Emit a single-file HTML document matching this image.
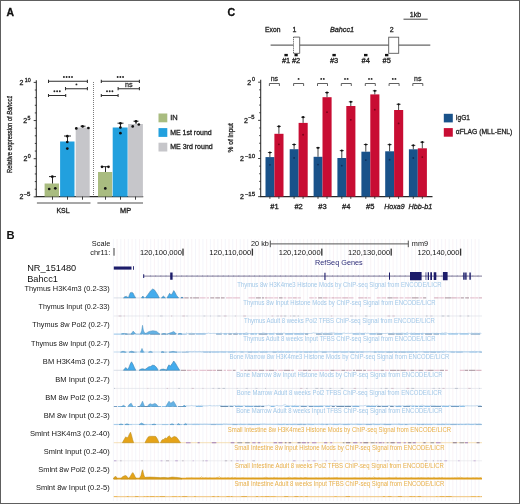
<!DOCTYPE html><html><head><meta charset="utf-8"><style>html,body{margin:0;padding:0;background:#fff;overflow:hidden;}svg{display:block;will-change:transform;font-family:"Liberation Sans", sans-serif;}</style></head><body>
<svg width="520" height="504" viewBox="0 0 520 504">
<rect x="0" y="0" width="520" height="504" fill="#fff"/>
<text x="6.50" y="15.60" font-size="10.4" fill="#111" font-weight="bold" stroke="#111" stroke-width="0.3">A</text>
<line x1="36.3" y1="80.2" x2="36.3" y2="197" stroke="#2a2a2a" stroke-width="1.05"/>
<path d="M33.70 196.85H36.3 M34.80 189.22H36.3 M34.80 181.59H36.3 M34.80 173.96H36.3 M34.80 166.33H36.3 M33.70 158.70H36.3 M34.80 151.07H36.3 M34.80 143.44H36.3 M34.80 135.81H36.3 M34.80 128.18H36.3 M33.70 120.55H36.3 M34.80 112.92H36.3 M34.80 105.29H36.3 M34.80 97.66H36.3 M34.80 90.03H36.3 M33.70 82.40H36.3" stroke="#2a2a2a" stroke-width="0.9" fill="none"/>
<text x="19.60" y="84.70" font-size="7.0" fill="#222" stroke="#222" stroke-width="0.3">2</text>
<text x="24.80" y="81.50" font-size="5.3" fill="#222" textLength="6.0" lengthAdjust="spacingAndGlyphs" stroke="#222" stroke-width="0.3">10</text>
<text x="23.30" y="122.85" font-size="7.0" fill="#222" stroke="#222" stroke-width="0.3">2</text>
<text x="27.50" y="119.65" font-size="5.3" fill="#222" stroke="#222" stroke-width="0.3">5</text>
<text x="23.60" y="161.00" font-size="7.0" fill="#222" stroke="#222" stroke-width="0.3">2</text>
<text x="27.70" y="157.80" font-size="5.3" fill="#222" stroke="#222" stroke-width="0.3">0</text>
<text x="19.50" y="199.15" font-size="7.0" fill="#222" stroke="#222" stroke-width="0.3">2</text>
<text x="23.60" y="195.95" font-size="5.3" fill="#222" textLength="6.9" lengthAdjust="spacingAndGlyphs" stroke="#222" stroke-width="0.3">−5</text>
<line x1="35.8" y1="196.6" x2="143.2" y2="196.6" stroke="#2a2a2a" stroke-width="1.1"/>
<line x1="93.5" y1="82" x2="93.5" y2="196" stroke="#444" stroke-width="0.8" stroke-dasharray="0.9,1.1"/>
<rect x="44.6" y="183.5" width="14.40" height="13.10" fill="#a9bc80"/>
<rect x="60.1" y="141.5" width="14.40" height="55.10" fill="#22a0de"/>
<rect x="75.7" y="127.5" width="14.00" height="69.10" fill="#c6c6ca"/>
<rect x="98" y="172" width="14.20" height="24.60" fill="#a9bc80"/>
<rect x="112.7" y="127.5" width="14.90" height="69.10" fill="#22a0de"/>
<rect x="128.1" y="124" width="14.80" height="72.60" fill="#c6c6ca"/>
<path d="M52.5 196.6V199.7 M67.5 196.6V199.7 M82.5 196.6V199.7 M105.5 196.6V199.7 M120.5 196.6V199.7 M135.5 196.6V199.7" stroke="#2a2a2a" stroke-width="0.9" fill="none"/>
<path d="M52.5 183.5V176.6M49.0 176.6H56.0" stroke="#111" stroke-width="0.9" fill="none"/>
<circle cx="52.3" cy="176.7" r="1.35" fill="#111"/>
<circle cx="49.2" cy="189" r="1.35" fill="#111"/>
<circle cx="55.3" cy="188.3" r="1.35" fill="#111"/>
<path d="M67.5 141.5V136M64.0 136H71.0" stroke="#111" stroke-width="0.9" fill="none"/>
<circle cx="67.3" cy="136.2" r="1.35" fill="#111"/>
<circle cx="67.3" cy="142" r="1.35" fill="#111"/>
<circle cx="67.3" cy="148.6" r="1.35" fill="#111"/>
<path d="M83 127.5V126.2M80.5 126.2H85.5" stroke="#111" stroke-width="0.9" fill="none"/>
<circle cx="76.3" cy="128.4" r="1.35" fill="#111"/>
<circle cx="82.5" cy="126.3" r="1.35" fill="#111"/>
<circle cx="88.4" cy="128" r="1.35" fill="#111"/>
<path d="M105.5 172V166.7M102.0 166.7H109.0" stroke="#111" stroke-width="0.9" fill="none"/>
<circle cx="102" cy="166.8" r="1.35" fill="#111"/>
<circle cx="108.5" cy="166.8" r="1.35" fill="#111"/>
<circle cx="105.3" cy="188.4" r="1.35" fill="#111"/>
<path d="M120.5 127.5V123.2M117.5 123.2H123.5" stroke="#111" stroke-width="0.9" fill="none"/>
<circle cx="120.4" cy="123.3" r="1.35" fill="#111"/>
<circle cx="120.4" cy="127.5" r="1.35" fill="#111"/>
<circle cx="120.4" cy="133.2" r="1.35" fill="#111"/>
<path d="M136 124V121.2M133.5 121.2H138.5" stroke="#111" stroke-width="0.9" fill="none"/>
<circle cx="132.7" cy="126.4" r="1.35" fill="#111"/>
<circle cx="136" cy="121.3" r="1.35" fill="#111"/>
<circle cx="138.8" cy="124.5" r="1.35" fill="#111"/>
<path d="M48.5 81.3H87.4M48.5 79.7V82.89999999999999M87.4 79.7V82.89999999999999" stroke="#2e2e2e" stroke-width="1.05" fill="none"/>
<circle cx="63.900000000000006" cy="77.0" r="0.95" fill="#222"/>
<circle cx="66.60000000000001" cy="77.0" r="0.95" fill="#222"/>
<circle cx="69.3" cy="77.0" r="0.95" fill="#222"/>
<circle cx="72.0" cy="77.0" r="0.95" fill="#222"/>
<path d="M65.5 88.7H87.4M65.5 87.10000000000001V90.3M87.4 87.10000000000001V90.3" stroke="#2e2e2e" stroke-width="1.05" fill="none"/>
<circle cx="76.45" cy="84.4" r="0.95" fill="#222"/>
<path d="M48.5 95.5H65.7M48.5 93.9V97.1M65.7 93.9V97.1" stroke="#2e2e2e" stroke-width="1.05" fill="none"/>
<circle cx="54.4" cy="91.2" r="0.95" fill="#222"/>
<circle cx="57.1" cy="91.2" r="0.95" fill="#222"/>
<circle cx="59.800000000000004" cy="91.2" r="0.95" fill="#222"/>
<path d="M101.3 81.3H139.4M101.3 79.7V82.89999999999999M139.4 79.7V82.89999999999999" stroke="#2e2e2e" stroke-width="1.05" fill="none"/>
<circle cx="117.64999999999999" cy="77.0" r="0.95" fill="#222"/>
<circle cx="120.35" cy="77.0" r="0.95" fill="#222"/>
<circle cx="123.05" cy="77.0" r="0.95" fill="#222"/>
<path d="M118.1 88.7H139.4M118.1 87.10000000000001V90.3M139.4 87.10000000000001V90.3" stroke="#2e2e2e" stroke-width="1.05" fill="none"/>
<text x="128.75" y="86.60" font-size="6.9" fill="#333" text-anchor="middle" textLength="7.6" lengthAdjust="spacingAndGlyphs" stroke="#333" stroke-width="0.3">ns</text>
<path d="M101.3 95.5H118.1M101.3 93.9V97.1M118.1 93.9V97.1" stroke="#2e2e2e" stroke-width="1.05" fill="none"/>
<circle cx="106.99999999999999" cy="91.2" r="0.95" fill="#222"/>
<circle cx="109.69999999999999" cy="91.2" r="0.95" fill="#222"/>
<circle cx="112.39999999999999" cy="91.2" r="0.95" fill="#222"/>
<path d="M36.9 203.1H90.5M97.4 203.1H143" stroke="#8a8a8a" stroke-width="1.5" fill="none"/>
<text x="56.40" y="213.20" font-size="7.1" fill="#222" textLength="13.2" lengthAdjust="spacingAndGlyphs" stroke="#222" stroke-width="0.3">KSL</text>
<text x="120.10" y="213.20" font-size="7.1" fill="#222" textLength="11" lengthAdjust="spacingAndGlyphs" stroke="#222" stroke-width="0.3">MP</text>
<text transform="translate(12.1,134.2) rotate(-90)" font-size="7.2" fill="#222" stroke="#222" stroke-width="0.3" text-anchor="middle" textLength="77.4" lengthAdjust="spacingAndGlyphs">Relative expression of <tspan font-style="italic">Bahcc1</tspan></text>
<rect x="158.5" y="113.5" width="8.8" height="8.8" fill="#a9bc80"/>
<text x="170.20" y="120.20" font-size="7.5" fill="#222" stroke="#222" stroke-width="0.3">IN</text>
<rect x="158.5" y="128.1" width="8.8" height="8.8" fill="#22a0de"/>
<text x="170.20" y="134.80" font-size="7.5" fill="#222" textLength="41.5" lengthAdjust="spacingAndGlyphs" stroke="#222" stroke-width="0.3">ME 1st round</text>
<rect x="158.5" y="142.7" width="8.8" height="8.8" fill="#c6c6ca"/>
<text x="170.20" y="149.40" font-size="7.5" fill="#222" textLength="42.5" lengthAdjust="spacingAndGlyphs" stroke="#222" stroke-width="0.3">ME 3rd round</text>
<text x="227.50" y="15.80" font-size="10.6" fill="#111" font-weight="bold" stroke="#111" stroke-width="0.3">C</text>
<line x1="403.5" y1="19.2" x2="427.7" y2="19.2" stroke="#444" stroke-width="1"/>
<text x="409.80" y="16.90" font-size="7" fill="#222" textLength="11.5" lengthAdjust="spacingAndGlyphs" stroke="#222" stroke-width="0.3">1kb</text>
<text x="265.10" y="31.80" font-size="7" fill="#222" textLength="15.4" lengthAdjust="spacingAndGlyphs" stroke="#222" stroke-width="0.3">Exon</text>
<text x="292.60" y="31.80" font-size="7" fill="#222" stroke="#222" stroke-width="0.3">1</text>
<text x="389.80" y="31.80" font-size="7" fill="#222" stroke="#222" stroke-width="0.3">2</text>
<text x="329.90" y="32.10" font-size="7.4" fill="#222" textLength="24.2" lengthAdjust="spacingAndGlyphs" font-style="italic" stroke="#222" stroke-width="0.3">Bahcc1</text>
<line x1="270.6" y1="45.1" x2="430.3" y2="45.1" stroke="#666" stroke-width="1.2"/>
<rect x="293.5" y="37.1" width="6.2" height="16.3" fill="#fff"/>
<path d="M293.5 37.1H299.7V53.4H293.5" stroke="#5a5a5a" stroke-width="0.9" fill="none"/>
<line x1="293.5" y1="37.1" x2="293.5" y2="53.4" stroke="#444" stroke-width="0.9" stroke-dasharray="1.1,1"/>
<rect x="388.7" y="37.2" width="10" height="16.1" fill="#fff" stroke="#5a5a5a" stroke-width="0.9"/>
<rect x="284.4" y="53.9" width="3.4" height="2.4" fill="#111"/>
<text x="286.10" y="62.50" font-size="7" fill="#222" text-anchor="middle" textLength="8.3" lengthAdjust="spacingAndGlyphs" stroke="#222" stroke-width="0.3">#1</text>
<rect x="294.5" y="53.9" width="3.2" height="2.4" fill="#111"/>
<text x="296.10" y="62.50" font-size="7" fill="#222" text-anchor="middle" textLength="8.3" lengthAdjust="spacingAndGlyphs" stroke="#222" stroke-width="0.3">#2</text>
<rect x="332.4" y="53.9" width="3.4" height="2.4" fill="#111"/>
<text x="334.10" y="62.50" font-size="7" fill="#222" text-anchor="middle" textLength="8.3" lengthAdjust="spacingAndGlyphs" stroke="#222" stroke-width="0.3">#3</text>
<rect x="364" y="53.9" width="3.5" height="2.4" fill="#111"/>
<text x="365.75" y="62.50" font-size="7" fill="#222" text-anchor="middle" textLength="8.3" lengthAdjust="spacingAndGlyphs" stroke="#222" stroke-width="0.3">#4</text>
<rect x="385" y="53.9" width="3.4" height="2.4" fill="#111"/>
<text x="386.70" y="62.50" font-size="7" fill="#222" text-anchor="middle" textLength="8.3" lengthAdjust="spacingAndGlyphs" stroke="#222" stroke-width="0.3">#5</text>
<line x1="260.7" y1="79.8" x2="260.7" y2="197" stroke="#2a2a2a" stroke-width="1.05"/>
<path d="M258.10 82.20H260.7 M259.20 89.83H260.7 M259.20 97.46H260.7 M259.20 105.09H260.7 M259.20 112.72H260.7 M258.10 120.35H260.7 M259.20 127.98H260.7 M259.20 135.61H260.7 M259.20 143.24H260.7 M259.20 150.87H260.7 M258.10 158.50H260.7 M259.20 166.13H260.7 M259.20 173.76H260.7 M259.20 181.39H260.7 M259.20 189.02H260.7 M258.10 196.65H260.7" stroke="#2a2a2a" stroke-width="0.9" fill="none"/>
<text x="247.30" y="84.50" font-size="7.0" fill="#222" stroke="#222" stroke-width="0.3">2</text>
<text x="251.90" y="81.30" font-size="5.3" fill="#222" stroke="#222" stroke-width="0.3">0</text>
<text x="244.00" y="122.65" font-size="7.0" fill="#222" stroke="#222" stroke-width="0.3">2</text>
<text x="247.90" y="119.45" font-size="5.3" fill="#222" textLength="6.6" lengthAdjust="spacingAndGlyphs" stroke="#222" stroke-width="0.3">−5</text>
<text x="240.00" y="160.80" font-size="7.0" fill="#222" stroke="#222" stroke-width="0.3">2</text>
<text x="244.70" y="157.60" font-size="5.3" fill="#222" textLength="10.4" lengthAdjust="spacingAndGlyphs" stroke="#222" stroke-width="0.3">−10</text>
<text x="240.00" y="198.95" font-size="7.0" fill="#222" stroke="#222" stroke-width="0.3">2</text>
<text x="244.70" y="195.75" font-size="5.3" fill="#222" textLength="10.4" lengthAdjust="spacingAndGlyphs" stroke="#222" stroke-width="0.3">−15</text>
<line x1="260.2" y1="196.6" x2="432.5" y2="196.6" stroke="#2a2a2a" stroke-width="1.1"/>
<rect x="265.5" y="157.1" width="8.9" height="39.5" fill="#19528a"/>
<rect x="274.4" y="133.8" width="9.1" height="62.8" fill="#c80d33"/>
<path d="M269.9 196.6V198.8M278.9 196.6V198.8" stroke="#2a2a2a" stroke-width="0.9" fill="none"/>
<path d="M269.4 86V83.5H279.4V86" stroke="#444" stroke-width="0.85" fill="none"/>
<text x="274.40" y="80.80" font-size="7" fill="#333" text-anchor="middle" textLength="7.4" lengthAdjust="spacingAndGlyphs" stroke="#333" stroke-width="0.3">ns</text>
<text x="274.40" y="208.60" font-size="7.3" fill="#222" text-anchor="middle" textLength="8.4" lengthAdjust="spacingAndGlyphs" stroke="#222" stroke-width="0.3">#1</text>
<path d="M269.9 157.1V152.5M267.9 152.5H271.9" stroke="#222" stroke-width="0.85" fill="none"/>
<circle cx="269.9" cy="152.5" r="1.1" fill="#111"/>
<circle cx="269.9" cy="164.84" r="0.9" fill="#0f2f5c"/>
<path d="M278.9 133.8V126.4M276.9 126.4H280.9" stroke="#222" stroke-width="0.85" fill="none"/>
<circle cx="278.9" cy="126.4" r="1.1" fill="#111"/>
<circle cx="278.9" cy="144.336" r="0.9" fill="#7a0018"/>
<rect x="289.7" y="149.2" width="8.9" height="47.4" fill="#19528a"/>
<rect x="298.6" y="122.9" width="9.1" height="73.7" fill="#c80d33"/>
<path d="M294.1 196.6V198.8M303.1 196.6V198.8" stroke="#2a2a2a" stroke-width="0.9" fill="none"/>
<path d="M293.6 86V83.5H303.6V86" stroke="#444" stroke-width="0.85" fill="none"/>
<circle cx="298.6" cy="78.9" r="0.95" fill="#222"/>
<text x="298.60" y="208.60" font-size="7.3" fill="#222" text-anchor="middle" textLength="8.4" lengthAdjust="spacingAndGlyphs" stroke="#222" stroke-width="0.3">#2</text>
<path d="M294.1 149.2V144.5M292.1 144.5H296.1" stroke="#222" stroke-width="0.85" fill="none"/>
<circle cx="294.1" cy="144.5" r="1.1" fill="#111"/>
<circle cx="294.1" cy="157.88799999999998" r="0.9" fill="#0f2f5c"/>
<path d="M303.1 122.9V117.2M301.1 117.2H305.1" stroke="#222" stroke-width="0.85" fill="none"/>
<circle cx="303.1" cy="117.2" r="1.1" fill="#111"/>
<circle cx="303.1" cy="134.744" r="0.9" fill="#7a0018"/>
<rect x="313.6" y="156.8" width="8.9" height="39.8" fill="#19528a"/>
<rect x="322.5" y="97.2" width="9.1" height="99.4" fill="#c80d33"/>
<path d="M318.0 196.6V198.8M327.0 196.6V198.8" stroke="#2a2a2a" stroke-width="0.9" fill="none"/>
<path d="M317.5 86V83.5H327.5V86" stroke="#444" stroke-width="0.85" fill="none"/>
<circle cx="321.2" cy="78.9" r="0.95" fill="#222"/>
<circle cx="323.8" cy="78.9" r="0.95" fill="#222"/>
<text x="322.50" y="208.60" font-size="7.3" fill="#222" text-anchor="middle" textLength="8.4" lengthAdjust="spacingAndGlyphs" stroke="#222" stroke-width="0.3">#3</text>
<path d="M318.0 156.8V147.8M316.0 147.8H320.0" stroke="#222" stroke-width="0.85" fill="none"/>
<circle cx="318.0" cy="147.8" r="1.1" fill="#111"/>
<circle cx="318.0" cy="164.57600000000002" r="0.9" fill="#0f2f5c"/>
<path d="M327.0 97.2V92.6M325.0 92.6H329.0" stroke="#222" stroke-width="0.85" fill="none"/>
<circle cx="327.0" cy="92.6" r="1.1" fill="#111"/>
<circle cx="327.0" cy="112.128" r="0.9" fill="#7a0018"/>
<rect x="337.4" y="158" width="8.9" height="38.6" fill="#19528a"/>
<rect x="346.3" y="106" width="9.1" height="90.6" fill="#c80d33"/>
<path d="M341.8 196.6V198.8M350.8 196.6V198.8" stroke="#2a2a2a" stroke-width="0.9" fill="none"/>
<path d="M341.3 86V83.5H351.3V86" stroke="#444" stroke-width="0.85" fill="none"/>
<circle cx="345.0" cy="78.9" r="0.95" fill="#222"/>
<circle cx="347.6" cy="78.9" r="0.95" fill="#222"/>
<text x="346.30" y="208.60" font-size="7.3" fill="#222" text-anchor="middle" textLength="8.4" lengthAdjust="spacingAndGlyphs" stroke="#222" stroke-width="0.3">#4</text>
<path d="M341.8 158V150.6M339.8 150.6H343.8" stroke="#222" stroke-width="0.85" fill="none"/>
<circle cx="341.8" cy="150.6" r="1.1" fill="#111"/>
<circle cx="341.8" cy="165.632" r="0.9" fill="#0f2f5c"/>
<path d="M350.8 106V101.8M348.8 101.8H352.8" stroke="#222" stroke-width="0.85" fill="none"/>
<circle cx="350.8" cy="101.8" r="1.1" fill="#111"/>
<circle cx="350.8" cy="119.872" r="0.9" fill="#7a0018"/>
<rect x="361.4" y="151.7" width="8.9" height="44.9" fill="#19528a"/>
<rect x="370.3" y="94.4" width="9.1" height="102.2" fill="#c80d33"/>
<path d="M365.8 196.6V198.8M374.8 196.6V198.8" stroke="#2a2a2a" stroke-width="0.9" fill="none"/>
<path d="M365.3 86V83.5H375.3V86" stroke="#444" stroke-width="0.85" fill="none"/>
<circle cx="369.0" cy="78.9" r="0.95" fill="#222"/>
<circle cx="371.6" cy="78.9" r="0.95" fill="#222"/>
<text x="370.30" y="208.60" font-size="7.3" fill="#222" text-anchor="middle" textLength="8.4" lengthAdjust="spacingAndGlyphs" stroke="#222" stroke-width="0.3">#5</text>
<path d="M365.8 151.7V144.5M363.8 144.5H367.8" stroke="#222" stroke-width="0.85" fill="none"/>
<circle cx="365.8" cy="144.5" r="1.1" fill="#111"/>
<circle cx="365.8" cy="160.088" r="0.9" fill="#0f2f5c"/>
<path d="M374.8 94.4V90.8M372.8 90.8H376.8" stroke="#222" stroke-width="0.85" fill="none"/>
<circle cx="374.8" cy="90.8" r="1.1" fill="#111"/>
<circle cx="374.8" cy="109.664" r="0.9" fill="#7a0018"/>
<rect x="385.2" y="151.3" width="8.9" height="45.3" fill="#19528a"/>
<rect x="394.1" y="110" width="9.1" height="86.6" fill="#c80d33"/>
<path d="M389.6 196.6V198.8M398.6 196.6V198.8" stroke="#2a2a2a" stroke-width="0.9" fill="none"/>
<path d="M389.1 86V83.5H399.1V86" stroke="#444" stroke-width="0.85" fill="none"/>
<circle cx="392.8" cy="78.9" r="0.95" fill="#222"/>
<circle cx="395.40000000000003" cy="78.9" r="0.95" fill="#222"/>
<text x="384.30" y="208.50" font-size="7.7" fill="#222" textLength="20.3" lengthAdjust="spacingAndGlyphs" font-style="italic" stroke="#222" stroke-width="0.3">Hoxa9</text>
<path d="M389.6 151.3V144.6M387.6 144.6H391.6" stroke="#222" stroke-width="0.85" fill="none"/>
<circle cx="389.6" cy="144.6" r="1.1" fill="#111"/>
<circle cx="389.6" cy="159.73600000000002" r="0.9" fill="#0f2f5c"/>
<path d="M398.6 110V104.3M396.6 104.3H400.6" stroke="#222" stroke-width="0.85" fill="none"/>
<circle cx="398.6" cy="104.3" r="1.1" fill="#111"/>
<circle cx="398.6" cy="123.392" r="0.9" fill="#7a0018"/>
<rect x="408.9" y="149.3" width="8.9" height="47.3" fill="#19528a"/>
<rect x="417.8" y="148.3" width="9.1" height="48.3" fill="#c80d33"/>
<path d="M413.3 196.6V198.8M422.3 196.6V198.8" stroke="#2a2a2a" stroke-width="0.9" fill="none"/>
<path d="M412.8 86V83.5H422.8V86" stroke="#444" stroke-width="0.85" fill="none"/>
<text x="417.80" y="80.80" font-size="7" fill="#333" text-anchor="middle" textLength="7.4" lengthAdjust="spacingAndGlyphs" stroke="#333" stroke-width="0.3">ns</text>
<text x="408.50" y="208.50" font-size="7.7" fill="#222" textLength="23.8" lengthAdjust="spacingAndGlyphs" font-style="italic" stroke="#222" stroke-width="0.3">Hbb-b1</text>
<path d="M413.3 149.3V145.4M411.3 145.4H415.3" stroke="#222" stroke-width="0.85" fill="none"/>
<circle cx="413.3" cy="145.4" r="1.1" fill="#111"/>
<circle cx="413.3" cy="157.976" r="0.9" fill="#0f2f5c"/>
<path d="M422.3 148.3V142.2M420.3 142.2H424.3" stroke="#222" stroke-width="0.85" fill="none"/>
<circle cx="422.3" cy="142.2" r="1.1" fill="#111"/>
<circle cx="422.3" cy="157.096" r="0.9" fill="#7a0018"/>
<text transform="translate(233.0,137.8) rotate(-90)" font-size="7.2" fill="#222" stroke="#222" stroke-width="0.3" text-anchor="middle" textLength="29.2" lengthAdjust="spacingAndGlyphs">% of input</text>
<rect x="443.8" y="113.8" width="9" height="8.6" fill="#19528a"/>
<rect x="443.8" y="128.1" width="9" height="8.6" fill="#c80d33"/>
<text x="455.80" y="120.00" font-size="7.5" fill="#222" textLength="14.2" lengthAdjust="spacingAndGlyphs" stroke="#222" stroke-width="0.3">IgG1</text>
<text x="455.80" y="134.40" font-size="7.5" fill="#222" textLength="56.5" lengthAdjust="spacingAndGlyphs" stroke="#222" stroke-width="0.3">αFLAG (MLL-ENL)</text>
<text x="6.60" y="238.60" font-size="11.2" fill="#111" font-weight="bold">B</text>
<path d="M113.40 239V501 M120.86 239V501 M128.32 239V501 M135.78 239V501 M143.24 239V501 M150.70 239V501 M158.16 239V501 M165.62 239V501 M173.08 239V501 M180.54 239V501 M188.00 239V501 M195.46 239V501 M202.92 239V501 M210.38 239V501 M217.84 239V501 M225.30 239V501 M232.76 239V501 M240.22 239V501 M247.68 239V501 M255.14 239V501 M262.60 239V501 M270.06 239V501 M277.52 239V501 M284.98 239V501 M292.44 239V501 M299.90 239V501 M307.36 239V501 M314.82 239V501 M322.28 239V501 M329.74 239V501 M337.20 239V501 M344.66 239V501 M352.12 239V501 M359.58 239V501 M367.04 239V501 M374.50 239V501 M381.96 239V501 M389.42 239V501 M396.88 239V501 M404.34 239V501 M411.80 239V501 M419.26 239V501 M426.72 239V501 M434.18 239V501 M441.64 239V501 M449.10 239V501 M456.56 239V501 M464.02 239V501 M471.48 239V501 M478.94 239V501" stroke="#f1f3f9" stroke-width="0.8" fill="none"/>
<path d="M117.13 239V501 M124.59 239V501 M132.05 239V501 M139.51 239V501 M146.97 239V501 M154.43 239V501 M161.89 239V501 M169.35 239V501 M176.81 239V501 M184.27 239V501 M191.73 239V501 M199.19 239V501 M206.65 239V501 M214.11 239V501 M221.57 239V501 M229.03 239V501 M236.49 239V501 M243.95 239V501 M251.41 239V501 M258.87 239V501 M266.33 239V501 M273.79 239V501 M281.25 239V501 M288.71 239V501 M296.17 239V501 M303.63 239V501 M311.09 239V501 M318.55 239V501 M326.01 239V501 M333.47 239V501 M340.93 239V501 M348.39 239V501 M355.85 239V501 M363.31 239V501 M370.77 239V501 M378.23 239V501 M385.69 239V501 M393.15 239V501 M400.61 239V501 M408.07 239V501 M415.53 239V501 M422.99 239V501 M430.45 239V501 M437.91 239V501 M445.37 239V501 M452.83 239V501 M460.29 239V501 M467.75 239V501 M475.21 239V501" stroke="#f8f0f4" stroke-width="0.8" fill="none"/>
<text x="110.30" y="246.20" font-size="7.4" fill="#151515" text-anchor="end">Scale</text>
<text x="110.30" y="255.30" font-size="7.4" fill="#151515" text-anchor="end">chr11:</text>
<rect x="113.3" y="248.0" width="1.4" height="7.7" fill="#777"/>
<text x="27.20" y="271.10" font-size="9.2" fill="#111">NR_151480</text>
<text x="27.20" y="282.00" font-size="9.2" fill="#111">Bahcc1</text>
<text x="268.90" y="246.30" font-size="7.3" fill="#151515" text-anchor="end">20 kb</text>
<path d="M270.3 243.9H408.3 M270.3 240.6V247.2 M408.3 240.6V247.2" stroke="#555" stroke-width="1" fill="none"/>
<text x="411.80" y="246.30" font-size="7.3" fill="#151515">mm9</text>
<text x="181.90" y="255.00" font-size="7.3" fill="#151515" text-anchor="end" textLength="42.0" lengthAdjust="spacingAndGlyphs">120,100,000</text>
<rect x="182.35" y="248.6" width="1.3" height="7" fill="#333"/>
<text x="251.30" y="255.00" font-size="7.3" fill="#151515" text-anchor="end" textLength="42.0" lengthAdjust="spacingAndGlyphs">120,110,000</text>
<rect x="251.75" y="248.6" width="1.3" height="7" fill="#333"/>
<text x="320.70" y="255.00" font-size="7.3" fill="#151515" text-anchor="end" textLength="42.0" lengthAdjust="spacingAndGlyphs">120,120,000</text>
<rect x="321.15" y="248.6" width="1.3" height="7" fill="#333"/>
<text x="390.10" y="255.00" font-size="7.3" fill="#151515" text-anchor="end" textLength="42.0" lengthAdjust="spacingAndGlyphs">120,130,000</text>
<rect x="390.55" y="248.6" width="1.3" height="7" fill="#333"/>
<text x="459.50" y="255.00" font-size="7.3" fill="#151515" text-anchor="end" textLength="42.0" lengthAdjust="spacingAndGlyphs">120,140,000</text>
<rect x="459.95" y="248.6" width="1.3" height="7" fill="#333"/>
<text x="314.90" y="264.80" font-size="7.3" fill="#2d2d78">RefSeq Genes</text>
<rect x="113.8" y="266.5" width="17.7" height="3.1" fill="#1c1c6a"/>
<rect x="133" y="266.2" width="0.9" height="3.6" fill="#1c1c6a"/>
<line x1="143.5" y1="276.1" x2="482" y2="276.1" stroke="#7c7898" stroke-width="1.0"/>
<path d="M150.8 275.1L150.0 276.1L150.8 277.1 M156.0 275.1L155.2 276.1L156.0 277.1 M161.2 275.1L160.4 276.1L161.2 277.1 M166.4 275.1L165.6 276.1L166.4 277.1 M171.6 275.1L170.8 276.1L171.6 277.1 M176.8 275.1L176.0 276.1L176.8 277.1 M182.0 275.1L181.2 276.1L182.0 277.1 M187.2 275.1L186.4 276.1L187.2 277.1 M192.4 275.1L191.6 276.1L192.4 277.1 M197.6 275.1L196.8 276.1L197.6 277.1 M202.8 275.1L202.0 276.1L202.8 277.1 M208.0 275.1L207.2 276.1L208.0 277.1 M213.2 275.1L212.4 276.1L213.2 277.1 M218.4 275.1L217.6 276.1L218.4 277.1 M223.6 275.1L222.8 276.1L223.6 277.1 M228.8 275.1L228.0 276.1L228.8 277.1 M234.0 275.1L233.2 276.1L234.0 277.1 M239.2 275.1L238.4 276.1L239.2 277.1 M244.4 275.1L243.6 276.1L244.4 277.1 M249.6 275.1L248.8 276.1L249.6 277.1 M254.8 275.1L254.0 276.1L254.8 277.1 M260.0 275.1L259.2 276.1L260.0 277.1 M265.2 275.1L264.4 276.1L265.2 277.1 M270.4 275.1L269.6 276.1L270.4 277.1 M275.6 275.1L274.8 276.1L275.6 277.1 M280.8 275.1L280.0 276.1L280.8 277.1 M286.0 275.1L285.2 276.1L286.0 277.1 M291.2 275.1L290.4 276.1L291.2 277.1 M296.4 275.1L295.6 276.1L296.4 277.1 M301.6 275.1L300.8 276.1L301.6 277.1 M306.8 275.1L306.0 276.1L306.8 277.1 M312.0 275.1L311.2 276.1L312.0 277.1 M317.2 275.1L316.4 276.1L317.2 277.1 M322.4 275.1L321.6 276.1L322.4 277.1 M327.6 275.1L326.8 276.1L327.6 277.1 M332.8 275.1L332.0 276.1L332.8 277.1 M338.0 275.1L337.2 276.1L338.0 277.1 M343.2 275.1L342.4 276.1L343.2 277.1 M348.4 275.1L347.6 276.1L348.4 277.1 M353.6 275.1L352.8 276.1L353.6 277.1 M358.8 275.1L358.0 276.1L358.8 277.1 M364.0 275.1L363.2 276.1L364.0 277.1 M369.2 275.1L368.4 276.1L369.2 277.1 M374.4 275.1L373.6 276.1L374.4 277.1 M379.6 275.1L378.8 276.1L379.6 277.1 M384.8 275.1L384.0 276.1L384.8 277.1 M390.0 275.1L389.2 276.1L390.0 277.1 M395.2 275.1L394.4 276.1L395.2 277.1 M400.4 275.1L399.6 276.1L400.4 277.1 M405.6 275.1L404.8 276.1L405.6 277.1 M410.8 275.1L410.0 276.1L410.8 277.1 M416.0 275.1L415.2 276.1L416.0 277.1 M421.2 275.1L420.4 276.1L421.2 277.1 M426.4 275.1L425.6 276.1L426.4 277.1 M431.6 275.1L430.8 276.1L431.6 277.1 M436.8 275.1L436.0 276.1L436.8 277.1 M442.0 275.1L441.2 276.1L442.0 277.1 M447.2 275.1L446.4 276.1L447.2 277.1 M452.4 275.1L451.6 276.1L452.4 277.1 M457.6 275.1L456.8 276.1L457.6 277.1 M462.8 275.1L462.0 276.1L462.8 277.1 M468.0 275.1L467.2 276.1L468.0 277.1 M473.2 275.1L472.4 276.1L473.2 277.1 M478.4 275.1L477.6 276.1L478.4 277.1" stroke="#8884a8" stroke-width="0.5" fill="none"/>
<path d="M143.2 274.3H144.2V278H143.2ZM170.2 272.4H172.6V279.8H170.2ZM324.4 272.7H325.5V280H324.4ZM389 272.5H390V279.7H389ZM410 272H421.6V280.2H410ZM425.6 272.3H426.3V279.9H425.6ZM427.7 272.3H429V279.9H427.7ZM430.3 272.3H432V279.9H430.3ZM433.7 272.3H436.3V279.9H433.7ZM442.9 272H447.6V280.2H442.9ZM463.2 272.5H464.7V279.7H463.2ZM465.2 272.5H466.6V279.7H465.2ZM469.4 272.5H470.8V279.7H469.4Z" fill="#1c1c6a"/>
<text x="109.70" y="291.20" font-size="7.4" fill="#151515" text-anchor="end" textLength="85.23" lengthAdjust="spacingAndGlyphs">Thymus H3K4m3 (0.2-33)</text>
<text x="339.40" y="286.70" font-size="6.35" fill="#a2c8e8" text-anchor="middle" textLength="204.27" lengthAdjust="spacingAndGlyphs">Thymus 8w H3K4me3 Histone Mods by ChIP-seq Signal from ENCODE/LICR</text>
<line x1="113.8" y1="297.90" x2="181" y2="297.90" stroke="#c9d3de" stroke-width="0.7"/>
<path d="M181.0 297.90H183.7 M199.5 297.90H205.6 M206.8 297.90H209.0 M226.0 297.90H232.6 M233.1 297.90H240.1 M248.5 297.90H255.3 M268.1 297.90H273.4 M274.2 297.90H278.2 M283.6 297.90H286.4 M287.6 297.90H292.3 M297.5 297.90H300.9 M309.2 297.90H313.8 M314.6 297.90H316.8 M328.4 297.90H330.6 M334.7 297.90H341.4 M348.4 297.90H353.5 M367.7 297.90H370.7 M376.7 297.90H380.7 M381.5 297.90H386.1 M399.4 297.90H403.5 M404.9 297.90H411.3 M419.5 297.90H422.2 M439.1 297.90H443.9 M457.2 297.90H460.2 M470.1 297.90H474.8 M475.2 297.90H478.0" stroke="#d7a3b6" stroke-width="0.95" fill="none" opacity="0.8"/>
<path d="M264.8 297.90H267.7 M293.0 297.90H296.7 M322.9 297.90H327.6 M331.5 297.90H334.4 M342.2 297.90H348.0 M358.3 297.90H363.6 M364.4 297.90H367.0 M393.1 297.90H398.4 M434.1 297.90H438.7 M451.8 297.90H456.8 M478.6 297.90H482.0" stroke="#c48ba0" stroke-width="0.95" fill="none" opacity="0.8"/>
<path d="M184.3 297.90H188.7 M189.9 297.90H192.4 M193.1 297.90H199.0 M210.3 297.90H214.2 M215.3 297.90H220.0 M220.9 297.90H224.6 M256.0 297.90H260.9 M261.9 297.90H264.0 M279.0 297.90H282.6 M318.2 297.90H322.2 M387.4 297.90H392.6 M411.9 297.90H418.6 M423.1 297.90H426.2 M444.8 297.90H451.5 M460.8 297.90H463.9 M465.2 297.90H469.0" stroke="#8a6a78" stroke-width="0.95" fill="none" opacity="0.8"/>
<path d="M123.5 297.9L123.5 297.90L124.8 296.70L126.5 296.40L128.2 297.70L128.2 297.9ZM128.5 297.9L128.5 297.60L129.6 294.40L130.3 292.70L131.5 292.40L133 292.90L134.2 295.40L135.6 297.90L135.6 297.9ZM141.5 297.9L141.5 297.90L142.8 296.00L144.3 297.70L144.3 297.9ZM145.6 297.9L145.6 297.60L148 294.40L150.5 290.90L152.7 289.00L154.5 289.90L156.5 292.90L158 295.40L159.3 297.90L159.3 297.9ZM161.4 297.9L161.4 297.90L163.4 296.10L165.4 297.90L165.4 297.9ZM167.2 297.9L167.2 297.50L168.4 295.40L169.6 293.30L171.3 295.00L172.6 292.90L173.8 290.60L175 292.40L176.5 295.40L178.6 297.90L178.6 297.9ZM180.8 297.9L180.8 297.90L182 297.10L183.2 297.90L183.2 297.9Z" fill="#44aced" stroke="#3c7eaa" stroke-width="0.55" stroke-linejoin="round"/>
<text x="109.70" y="309.30" font-size="7.4" fill="#151515" text-anchor="end" textLength="71.12" lengthAdjust="spacingAndGlyphs">Thymus Input (0.2-33)</text>
<text x="339.40" y="304.80" font-size="6.35" fill="#a2c8e8" text-anchor="middle" textLength="192.25" lengthAdjust="spacingAndGlyphs">Thymus 8w Input Histone Mods by ChIP-seq Signal from ENCODE/LICR</text>
<line x1="113.8" y1="316.00" x2="482" y2="316.00" stroke="#d9dce4" stroke-width="0.6"/>
<path d="M147.6 316.00H149.1 M234.8 316.00H235.8 M283.7 316.00H286.3 M292.7 316.00H295.5 M297.5 316.00H299.1 M365.0 316.00H367.4 M425.9 316.00H427.6 M441.7 316.00H444.3 M447.2 316.00H449.4 M467.4 316.00H469.2" stroke="#a9adbb" stroke-width="0.8" fill="none" opacity="0.8"/>
<path d="M118.6 316.00H121.5 M123.7 316.00H124.6 M171.0 316.00H172.2 M182.3 316.00H184.9 M223.7 316.00H226.6 M243.2 316.00H246.0 M271.5 316.00H273.3 M280.2 316.00H282.4 M290.1 316.00H291.2 M330.8 316.00H332.3 M387.5 316.00H390.2 M392.4 316.00H394.8" stroke="#c6a8b6" stroke-width="0.8" fill="none" opacity="0.8"/>
<path d="M159.9 316.00H162.7 M186.4 316.00H187.6 M203.5 316.00H205.3 M210.1 316.00H211.0 M217.5 316.00H220.5 M276.5 316.00H279.0 M350.0 316.00H352.9 M355.1 316.00H356.2 M430.2 316.00H432.5 M459.5 316.00H461.3" stroke="#b9bccb" stroke-width="0.8" fill="none" opacity="0.8"/>
<text x="109.70" y="327.40" font-size="7.4" fill="#151515" text-anchor="end" textLength="77.35" lengthAdjust="spacingAndGlyphs">Thymus 8w Pol2 (0.2-7)</text>
<text x="339.40" y="322.90" font-size="6.35" fill="#a2c8e8" text-anchor="middle" textLength="190.82" lengthAdjust="spacingAndGlyphs">Thymus Adult 8 weeks Pol2 TFBS ChIP-seq Signal from ENCODE/LICR</text>
<path d="M135.8 334.10H141.8 M143.3 334.10H148.7 M177.6 334.10H186.8 M195.8 334.10H205.7 M223.6 334.10H227.1 M238.8 334.10H241.8 M242.7 334.10H248.4 M250.4 334.10H254.2 M285.2 334.10H293.2 M294.2 334.10H304.2 M352.7 334.10H359.6 M360.4 334.10H365.0 M369.5 334.10H375.9 M410.3 334.10H420.0 M420.8 334.10H423.4" stroke="#5e9fd2" stroke-width="0.95" fill="none" opacity="0.8"/>
<path d="M125.1 334.10H133.8 M161.0 334.10H167.9 M188.6 334.10H194.9 M216.1 334.10H221.8 M276.1 334.10H283.1 M322.7 334.10H332.6 M395.7 334.10H402.8 M433.5 334.10H439.1 M470.7 334.10H480.2" stroke="#4a7fae" stroke-width="0.95" fill="none" opacity="0.8"/>
<path d="M113.8 334.10H121.0 M121.7 334.10H124.3 M254.6 334.10H257.0 M268.7 334.10H274.4 M333.9 334.10H342.4 M403.5 334.10H408.3 M440.1 334.10H446.6 M448.3 334.10H458.1 M459.6 334.10H468.9" stroke="#6fb0e0" stroke-width="0.95" fill="none" opacity="0.8"/>
<path d="M150.2 334.10H160.2 M169.6 334.10H175.8 M228.4 334.10H231.8 M233.2 334.10H237.8 M258.7 334.10H267.5 M305.1 334.10H308.2 M316.0 334.10H321.9 M376.6 334.10H382.2 M388.2 334.10H394.6 M425.1 334.10H432.1" stroke="#3e6a92" stroke-width="0.95" fill="none" opacity="0.8"/>
<path d="M186.0 332.68 L187.4 333.50 L188.8 333.36 L190.2 333.45 L191.6 333.21 L193.0 333.50 L194.4 333.50 L195.8 333.50 L197.2 333.50 L198.6 333.50 L200.0 333.50 L201.4 333.50 L202.8 333.50 L204.2 333.35 L205.6 333.50 L207.0 333.50 L208.4 333.08 L209.8 333.50 L211.2 333.50 L212.6 333.41 L214.0 333.42 L215.4 333.48 L216.8 333.50 L218.2 333.43 L219.6 333.50 L221.0 332.99 L222.4 333.50 L223.8 333.50 L225.2 333.49 L226.6 333.42 L228.0 333.50 L229.4 333.33 L230.8 333.50 L232.2 333.50 L233.6 333.50 L235.0 333.50 L236.4 333.01 L237.8 333.50 L239.2 333.50 L240.6 333.50 L242.0 333.45 L243.4 333.50 L244.8 333.50 L246.2 332.72 L247.6 333.30 L249.0 333.50 L250.4 333.49 L251.8 333.50 L253.2 333.50 L254.6 333.40 L256.0 333.50 L257.4 333.45 L258.8 333.50 L260.2 333.50 L261.6 333.50 L263.0 332.92 L264.4 333.19 L265.8 333.50 L267.2 333.50 L268.6 333.50 L270.0 333.50 L271.4 333.50 L272.8 333.45 L274.2 333.19 L275.6 333.50 L277.0 333.50 L278.4 333.27 L279.8 333.50 L281.2 333.24 L282.6 333.50 L284.0 332.97 L285.4 333.50 L286.8 333.50 L288.2 333.50 L289.6 333.50 L291.0 333.50 L292.4 333.50 L293.8 333.28 L295.2 333.50 L296.6 333.50 L298.0 333.50 L299.4 333.50 L300.8 333.26 L302.2 333.50 L303.6 333.31 L305.0 333.50 L306.4 333.50 L307.8 333.50 L309.2 333.50 L310.6 333.50 L312.0 333.40 L313.4 332.79 L314.8 333.17 L316.2 333.24 L317.6 333.34 L319.0 333.50 L320.4 333.32 L321.8 332.80 L323.2 333.50 L324.6 333.24 L326.0 333.17 L327.4 333.43 L328.8 333.25 L330.2 333.04 L331.6 332.75 L333.0 333.07 L334.4 332.94 L335.8 333.41 L337.2 333.23 L338.6 333.46 L340.0 333.42 L341.4 333.50 L342.8 333.28 L344.2 333.01 L345.6 333.50 L347.0 333.43 L348.4 333.30 L349.8 333.50 L351.2 333.19 L352.6 333.43 L354.0 333.50 L355.4 333.50 L356.8 333.26 L358.2 333.29 L359.6 333.13 L361.0 333.43 L362.4 333.44 L363.8 333.50 L365.2 333.02 L366.6 333.50 L368.0 333.14 L369.4 333.50 L370.8 333.50 L372.2 333.46 L373.6 333.50 L375.0 333.50 L376.4 333.19 L377.8 333.27 L379.2 333.37 L380.6 333.50 L382.0 333.50 L383.4 333.50 L384.8 333.50 L386.2 333.50 L387.6 333.24 L389.0 333.50 L390.4 333.50 L391.8 333.50 L393.2 333.06 L394.6 333.45 L396.0 333.42 L397.4 333.41 L398.8 333.30 L400.2 333.46 L401.6 333.09 L403.0 333.22 L404.4 333.50 L405.8 333.50 L407.2 332.47 L408.6 333.50 L410.0 333.46 L411.4 333.12 L412.8 333.50 L414.2 333.03 L415.6 333.50 L417.0 333.50 L418.4 333.50 L419.8 333.50 L421.2 333.50 L422.6 333.30 L424.0 333.41 L425.4 333.50 L426.8 333.50 L428.2 333.41 L429.6 333.50 L431.0 333.50 L432.4 333.32 L433.8 333.37 L435.2 333.47 L436.6 333.26 L438.0 333.50 L439.4 333.50 L440.8 333.50 L442.2 333.03 L443.6 333.32 L445.0 332.76 L446.4 332.95 L447.8 333.50 L449.2 333.50 L450.6 333.33 L452.0 333.50 L453.4 333.50 L454.8 333.50 L456.2 333.29 L457.6 333.43 L459.0 333.36 L460.4 333.39 L461.8 333.50 L463.2 333.50 L464.6 333.50 L466.0 333.50 L467.4 333.50 L468.8 333.16 L470.2 333.50 L471.6 332.97 L473.0 333.44 L474.4 333.26 L475.8 333.32 L477.2 333.22 L478.6 333.50 L480.0 333.12 L481.4 333.46" stroke="#5a9ad0" stroke-width="0.5" fill="none" opacity="0.7"/>
<path d="M121 334.09999999999997L121 334.10L123 333.50L125 333.70L127.4 334.10L127.4 334.09999999999997ZM131 334.09999999999997L131 334.10L133.2 331.10L135.8 334.10L135.8 334.09999999999997ZM140.4 334.09999999999997L140.4 334.10L141.7 330.60L142.5 325.30L143.3 330.10L144.3 332.60L145.6 333.30L146.6 332.90L149 331.50L152.8 330.70L156.5 331.30L159.7 334.10L159.7 334.09999999999997ZM162 334.09999999999997L162 334.10L164 333.40L166 334.10L166 334.09999999999997ZM167.4 334.09999999999997L167.4 334.10L170 332.90L172 332.30L173.5 331.50L175 332.50L176.6 334.10L176.6 334.09999999999997ZM178 334.09999999999997L178 334.10L180 333.30L182 334.10L182 334.09999999999997Z" fill="#66b2e4" stroke="#4f92c0" stroke-width="0.5" stroke-linejoin="round"/>
<text x="109.70" y="345.50" font-size="7.4" fill="#151515" text-anchor="end" textLength="78.71" lengthAdjust="spacingAndGlyphs">Thymus 8w Input (0.2-7)</text>
<text x="339.40" y="341.00" font-size="6.35" fill="#a2c8e8" text-anchor="middle" textLength="192.14" lengthAdjust="spacingAndGlyphs">Thymus Adult 8 weeks Input TFBS ChIP-seq Signal from ENCODE/LICR</text>
<line x1="113.8" y1="352.00" x2="482" y2="352.00" stroke="#a4c8e6" stroke-width="0.7"/>
<path d="M203.2 352.20H208.4 M240.5 352.20H243.5 M260.0 352.20H267.7 M304.1 352.20H308.0 M308.6 352.20H311.8 M356.1 352.20H359.0 M360.3 352.20H363.5 M406.5 352.20H413.8 M415.2 352.20H417.4 M423.5 352.20H429.3 M437.1 352.20H440.5 M450.5 352.20H454.9 M456.1 352.20H462.8" stroke="#7cb0da" stroke-width="0.7" fill="none" opacity="0.8"/>
<path d="M130.8 352.20H136.7 M161.6 352.20H166.7 M181.9 352.20H188.6 M208.9 352.20H211.1 M247.9 352.20H252.4 M272.5 352.20H276.7 M321.8 352.20H326.7 M349.8 352.20H354.7 M373.9 352.20H376.6 M386.4 352.20H392.9 M394.5 352.20H397.2 M398.4 352.20H400.4 M400.8 352.20H405.8 M430.4 352.20H436.1 M479.3 352.20H482.0" stroke="#6a9cc6" stroke-width="0.7" fill="none" opacity="0.8"/>
<path d="M124.2 352.20H126.9 M141.6 352.20H145.1 M176.5 352.20H181.1 M211.8 352.20H219.5 M220.5 352.20H226.0 M227.9 352.20H235.3 M253.3 352.20H258.4 M277.6 352.20H284.0 M285.2 352.20H290.7 M296.1 352.20H298.3 M299.9 352.20H302.2 M313.5 352.20H317.6 M333.0 352.20H338.6 M340.6 352.20H348.1 M377.7 352.20H384.5 M441.8 352.20H444.4 M469.5 352.20H477.3" stroke="#8ec0e6" stroke-width="0.7" fill="none" opacity="0.8"/>
<path d="M186.0 351.67 L187.4 351.32 L188.8 351.70 L190.2 351.40 L191.6 351.70 L193.0 351.70 L194.4 351.13 L195.8 351.65 L197.2 351.70 L198.6 351.48 L200.0 351.36 L201.4 351.70 L202.8 351.52 L204.2 351.70 L205.6 351.70 L207.0 351.70 L208.4 351.70 L209.8 351.70 L211.2 351.70 L212.6 351.70 L214.0 351.70 L215.4 351.70 L216.8 351.68 L218.2 351.70 L219.6 351.70 L221.0 351.63 L222.4 351.47 L223.8 351.70 L225.2 351.70 L226.6 351.70 L228.0 351.70 L229.4 351.70 L230.8 351.70 L232.2 351.37 L233.6 351.70 L235.0 351.46 L236.4 351.60 L237.8 351.70 L239.2 351.56 L240.6 351.54 L242.0 351.39 L243.4 351.70 L244.8 351.70 L246.2 351.70 L247.6 351.70 L249.0 351.70 L250.4 351.70 L251.8 351.38 L253.2 351.70 L254.6 351.70 L256.0 351.70 L257.4 351.70 L258.8 351.13 L260.2 351.70 L261.6 351.70 L263.0 351.70 L264.4 351.20 L265.8 351.70 L267.2 351.38 L268.6 351.70 L270.0 351.70 L271.4 351.70 L272.8 351.51 L274.2 351.70 L275.6 351.70 L277.0 351.59 L278.4 351.15 L279.8 351.70 L281.2 351.24 L282.6 351.42 L284.0 351.70 L285.4 351.61 L286.8 351.70 L288.2 351.21 L289.6 351.64 L291.0 351.70 L292.4 351.70 L293.8 351.70 L295.2 351.70 L296.6 351.70 L298.0 351.08 L299.4 351.70 L300.8 351.70 L302.2 351.70 L303.6 351.70 L305.0 351.59 L306.4 351.70 L307.8 351.70 L309.2 351.60 L310.6 351.41 L312.0 351.70 L313.4 351.70 L314.8 351.12 L316.2 351.54 L317.6 351.70 L319.0 351.00 L320.4 351.47 L321.8 351.70 L323.2 351.70 L324.6 351.61 L326.0 351.70 L327.4 351.70 L328.8 351.70 L330.2 351.70 L331.6 351.37 L333.0 351.70 L334.4 351.70 L335.8 351.50 L337.2 351.68 L338.6 351.45 L340.0 351.34 L341.4 351.70 L342.8 351.70 L344.2 351.70 L345.6 351.70 L347.0 351.50 L348.4 351.29 L349.8 351.65 L351.2 351.70 L352.6 351.70 L354.0 351.70 L355.4 351.70 L356.8 351.70 L358.2 351.70 L359.6 351.70 L361.0 351.70 L362.4 351.59 L363.8 351.69 L365.2 351.70 L366.6 351.70 L368.0 351.70 L369.4 351.37 L370.8 351.70 L372.2 351.70 L373.6 351.70 L375.0 351.50 L376.4 351.70 L377.8 351.40 L379.2 351.70 L380.6 351.42 L382.0 351.69 L383.4 351.70 L384.8 351.70 L386.2 351.70 L387.6 351.70 L389.0 351.50 L390.4 351.63 L391.8 351.70 L393.2 351.58 L394.6 351.40 L396.0 351.70 L397.4 351.70 L398.8 351.70 L400.2 351.46 L401.6 351.54 L403.0 351.70 L404.4 351.59 L405.8 351.70 L407.2 351.70 L408.6 351.33 L410.0 351.45 L411.4 351.70 L412.8 351.68 L414.2 351.55 L415.6 351.70 L417.0 351.70 L418.4 351.50 L419.8 351.70 L421.2 351.60 L422.6 351.48 L424.0 351.55 L425.4 351.70 L426.8 351.60 L428.2 351.70 L429.6 351.53 L431.0 351.52 L432.4 351.64 L433.8 351.70 L435.2 351.70 L436.6 351.44 L438.0 351.70 L439.4 351.55 L440.8 351.55 L442.2 351.70 L443.6 350.98 L445.0 351.68 L446.4 351.06 L447.8 351.70 L449.2 351.70 L450.6 351.41 L452.0 351.51 L453.4 351.70 L454.8 351.70 L456.2 351.70 L457.6 351.70 L459.0 351.70 L460.4 351.70 L461.8 351.43 L463.2 351.68 L464.6 351.59 L466.0 351.70 L467.4 351.70 L468.8 351.67 L470.2 351.70 L471.6 351.32 L473.0 351.70 L474.4 351.13 L475.8 351.70 L477.2 351.38 L478.6 351.70 L480.0 351.21 L481.4 351.66" stroke="#6ea6d6" stroke-width="0.5" fill="none" opacity="0.6"/>
<path d="M120.5 352.2L120.5 352.20L123 351.20L125.8 352.20L125.8 352.2ZM129 352.2L129 352.20L131.5 351.20L134.3 352.20L134.3 352.2ZM140.4 352.2L140.4 352.20L142 348.40L143.6 352.20L143.6 352.2ZM148.5 352.2L148.5 352.20L150.5 351.40L152.5 352.20L152.5 352.2ZM161 352.2L161 352.20L162.5 351.60L164 352.20L164 352.2ZM169 352.2L169 352.20L173 351.40L177 352.20L177 352.2Z" fill="#66b2e4" stroke="#4f92c0" stroke-width="0.5" stroke-linejoin="round"/>
<text x="109.70" y="363.60" font-size="7.4" fill="#151515" text-anchor="end" textLength="66.82" lengthAdjust="spacingAndGlyphs">BM H3K4m3 (0.2-7)</text>
<text x="339.40" y="359.10" font-size="6.35" fill="#a2c8e8" text-anchor="middle" textLength="219.76" lengthAdjust="spacingAndGlyphs">Bone Marrow 8w H3K4me3 Histone Mods by ChIP-seq Signal from ENCODE/LICR</text>
<line x1="113.8" y1="370.30" x2="181" y2="370.30" stroke="#c9d3de" stroke-width="0.7"/>
<path d="M192.5 370.30H198.1 M199.4 370.30H206.3 M223.6 370.30H225.9 M227.0 370.30H231.8 M240.4 370.30H243.2 M274.4 370.30H277.0 M278.2 370.30H283.2 M298.0 370.30H302.0 M312.4 370.30H319.0 M319.5 370.30H324.3 M324.6 370.30H329.3 M335.1 370.30H340.5 M348.6 370.30H351.9 M367.1 370.30H372.4 M373.1 370.30H379.7 M384.6 370.30H388.9 M406.3 370.30H409.5 M414.8 370.30H417.7 M424.6 370.30H427.0 M434.3 370.30H439.3 M459.8 370.30H464.4" stroke="#d7a3b6" stroke-width="0.95" fill="none" opacity="0.8"/>
<path d="M186.9 370.30H191.4 M206.9 370.30H212.6 M213.1 370.30H216.1 M251.3 370.30H257.9 M265.5 370.30H268.4 M291.1 370.30H293.9 M346.2 370.30H348.3 M445.0 370.30H447.8 M476.2 370.30H481.5" stroke="#c48ba0" stroke-width="0.95" fill="none" opacity="0.8"/>
<path d="M181.0 370.30H186.1 M217.0 370.30H222.2 M232.8 370.30H235.6 M244.4 370.30H246.6 M247.5 370.30H250.8 M258.9 370.30H264.2 M268.8 370.30H274.0 M283.7 370.30H290.3 M302.6 370.30H307.4 M308.1 370.30H311.0 M330.4 370.30H334.6 M341.4 370.30H345.3 M352.9 370.30H355.1 M356.0 370.30H362.1 M363.2 370.30H365.9 M380.5 370.30H383.9 M390.0 370.30H396.1 M396.7 370.30H399.7 M400.4 370.30H405.9 M410.4 370.30H414.3 M418.4 370.30H423.3 M427.4 370.30H433.7 M439.7 370.30H444.0 M464.7 370.30H468.0 M468.8 370.30H475.5" stroke="#8a6a78" stroke-width="0.95" fill="none" opacity="0.8"/>
<path d="M123.4 370.29999999999995L123.4 370.30L125.8 367.50L127.4 369.50L129 367.30L130.3 363.80L131.5 361.80L133 364.30L134.5 367.80L135.8 370.30L135.8 370.29999999999995ZM139 370.29999999999995L139 370.30L141 369.00L143 368.80L145 369.50L147 368.10L148.8 366.80L150.5 366.50L152.8 365.10L155 365.80L156.8 367.80L158.2 370.30L158.2 370.29999999999995ZM159.7 370.29999999999995L159.7 370.30L161.5 369.30L163.5 369.10L166.6 370.00L166.6 370.29999999999995ZM166.6 370.29999999999995L166.6 370.00L167.8 366.80L168.9 364.80L170.3 366.10L172 363.80L173.8 361.00L175.5 363.30L177.5 366.80L179.7 370.30L179.7 370.29999999999995Z" fill="#44aced" stroke="#3c7eaa" stroke-width="0.55" stroke-linejoin="round"/>
<text x="109.70" y="381.70" font-size="7.4" fill="#151515" text-anchor="end" textLength="54.41" lengthAdjust="spacingAndGlyphs">BM Input (0.2-7)</text>
<text x="339.40" y="377.20" font-size="6.35" fill="#a2c8e8" text-anchor="middle" textLength="206.5" lengthAdjust="spacingAndGlyphs">Bone Marrow 8w Input Histone Mods by ChIP-seq Signal from ENCODE/LICR</text>
<line x1="113.8" y1="388.40" x2="482" y2="388.40" stroke="#d9dce4" stroke-width="0.6"/>
<path d="M114.0 388.40H115.0 M178.3 388.40H179.8 M217.7 388.40H220.2 M222.5 388.40H225.1 M265.0 388.40H266.1 M306.2 388.40H307.6 M315.3 388.40H318.3 M329.4 388.40H331.4 M340.8 388.40H343.3 M380.7 388.40H381.7 M384.8 388.40H387.6 M411.3 388.40H414.2 M438.5 388.40H440.1 M454.9 388.40H457.9" stroke="#a9adbb" stroke-width="0.8" fill="none" opacity="0.8"/>
<path d="M147.5 388.40H148.3 M166.6 388.40H168.0 M191.6 388.40H193.8 M202.5 388.40H203.4 M299.9 388.40H302.4 M353.6 388.40H356.1 M391.2 388.40H393.6 M406.5 388.40H409.2 M442.4 388.40H444.6 M468.3 388.40H470.7" stroke="#c6a8b6" stroke-width="0.8" fill="none" opacity="0.8"/>
<path d="M212.4 388.40H214.2 M236.6 388.40H237.6 M245.6 388.40H247.8 M255.4 388.40H257.5 M320.1 388.40H322.9 M365.1 388.40H366.9 M432.5 388.40H435.1 M479.2 388.40H480.1" stroke="#b9bccb" stroke-width="0.8" fill="none" opacity="0.8"/>
<text x="109.70" y="399.80" font-size="7.4" fill="#151515" text-anchor="end" textLength="64.47" lengthAdjust="spacingAndGlyphs">BM 8w Pol2 (0.2-3)</text>
<text x="339.40" y="395.30" font-size="6.35" fill="#a2c8e8" text-anchor="middle" textLength="205.07" lengthAdjust="spacingAndGlyphs">Bone Marrow Adult 8 weeks Pol2 TFBS ChIP-seq Signal from ENCODE/LICR</text>
<path d="M117.8 406.50H125.6 M151.7 406.50H161.0 M235.0 406.50H242.8 M244.9 406.50H253.4 M314.1 406.50H323.2 M352.4 406.50H359.3 M366.4 406.50H376.2 M395.6 406.50H401.4 M415.1 406.50H418.1 M419.1 406.50H423.4" stroke="#5e9fd2" stroke-width="0.95" fill="none" opacity="0.8"/>
<path d="M113.8 406.50H117.0 M177.9 406.50H186.1 M229.6 406.50H233.3 M254.1 406.50H260.6 M300.8 406.50H306.8 M308.8 406.50H313.5 M381.7 406.50H388.1 M403.3 406.50H410.3 M431.0 406.50H441.0 M450.8 406.50H459.1" stroke="#4a7fae" stroke-width="0.95" fill="none" opacity="0.8"/>
<path d="M131.5 406.50H136.0 M161.8 406.50H167.0 M168.3 406.50H171.7 M173.7 406.50H176.9 M195.8 406.50H202.7 M270.7 406.50H274.6 M284.6 406.50H289.7 M291.4 406.50H298.9 M325.3 406.50H330.3 M411.4 406.50H414.3 M424.4 406.50H430.3 M442.0 406.50H449.2 M459.6 406.50H464.8" stroke="#6fb0e0" stroke-width="0.95" fill="none" opacity="0.8"/>
<path d="M137.5 406.50H140.2 M140.7 406.50H150.0 M220.4 406.50H228.3 M261.2 406.50H264.2 M331.7 406.50H334.8 M336.4 406.50H344.4 M345.0 406.50H351.0 M377.2 406.50H380.8 M390.1 406.50H393.7 M477.9 406.50H482.0" stroke="#3e6a92" stroke-width="0.95" fill="none" opacity="0.8"/>
<path d="M186.0 405.73 L187.4 405.90 L188.8 405.90 L190.2 405.87 L191.6 405.38 L193.0 405.90 L194.4 405.90 L195.8 405.79 L197.2 405.90 L198.6 405.47 L200.0 405.90 L201.4 405.28 L202.8 405.90 L204.2 405.90 L205.6 405.90 L207.0 405.90 L208.4 405.74 L209.8 405.48 L211.2 405.81 L212.6 405.90 L214.0 405.72 L215.4 405.90 L216.8 405.72 L218.2 405.90 L219.6 405.38 L221.0 405.55 L222.4 405.77 L223.8 405.90 L225.2 405.71 L226.6 405.77 L228.0 405.90 L229.4 405.90 L230.8 405.46 L232.2 405.90 L233.6 405.74 L235.0 405.41 L236.4 405.90 L237.8 405.27 L239.2 405.55 L240.6 405.90 L242.0 405.90 L243.4 405.90 L244.8 405.57 L246.2 405.90 L247.6 405.57 L249.0 405.84 L250.4 405.90 L251.8 405.90 L253.2 405.90 L254.6 405.90 L256.0 405.59 L257.4 405.90 L258.8 405.52 L260.2 405.55 L261.6 405.90 L263.0 405.69 L264.4 405.90 L265.8 405.88 L267.2 405.73 L268.6 405.22 L270.0 405.90 L271.4 405.90 L272.8 405.89 L274.2 405.90 L275.6 405.90 L277.0 405.24 L278.4 405.90 L279.8 405.90 L281.2 405.90 L282.6 405.66 L284.0 404.86 L285.4 404.84 L286.8 405.55 L288.2 405.78 L289.6 405.90 L291.0 405.90 L292.4 405.64 L293.8 405.90 L295.2 405.17 L296.6 405.90 L298.0 405.90 L299.4 405.90 L300.8 405.90 L302.2 405.68 L303.6 405.78 L305.0 405.90 L306.4 405.90 L307.8 405.80 L309.2 405.90 L310.6 405.82 L312.0 405.90 L313.4 405.90 L314.8 405.90 L316.2 405.85 L317.6 405.87 L319.0 405.84 L320.4 405.57 L321.8 405.57 L323.2 405.90 L324.6 405.69 L326.0 405.90 L327.4 405.66 L328.8 405.90 L330.2 405.54 L331.6 405.55 L333.0 405.90 L334.4 405.90 L335.8 405.51 L337.2 405.90 L338.6 405.87 L340.0 405.90 L341.4 405.69 L342.8 405.80 L344.2 405.90 L345.6 405.90 L347.0 405.90 L348.4 405.60 L349.8 405.90 L351.2 405.90 L352.6 405.90 L354.0 405.90 L355.4 405.66 L356.8 405.68 L358.2 405.90 L359.6 405.90 L361.0 405.86 L362.4 405.90 L363.8 405.86 L365.2 405.31 L366.6 405.79 L368.0 405.48 L369.4 405.54 L370.8 405.90 L372.2 405.27 L373.6 405.82 L375.0 405.90 L376.4 405.60 L377.8 405.11 L379.2 405.90 L380.6 405.90 L382.0 405.77 L383.4 405.90 L384.8 405.90 L386.2 405.88 L387.6 405.63 L389.0 405.70 L390.4 405.60 L391.8 405.51 L393.2 405.90 L394.6 405.90 L396.0 405.90 L397.4 405.90 L398.8 405.50 L400.2 405.59 L401.6 405.90 L403.0 405.73 L404.4 405.90 L405.8 405.90 L407.2 405.44 L408.6 405.43 L410.0 405.48 L411.4 405.66 L412.8 405.25 L414.2 405.90 L415.6 405.60 L417.0 405.90 L418.4 405.90 L419.8 405.90 L421.2 405.35 L422.6 405.26 L424.0 405.58 L425.4 405.90 L426.8 405.83 L428.2 405.90 L429.6 405.90 L431.0 405.35 L432.4 405.32 L433.8 405.66 L435.2 405.62 L436.6 405.90 L438.0 405.76 L439.4 405.90 L440.8 405.72 L442.2 405.90 L443.6 405.54 L445.0 405.90 L446.4 405.82 L447.8 405.90 L449.2 405.35 L450.6 405.57 L452.0 405.90 L453.4 405.90 L454.8 405.69 L456.2 405.86 L457.6 405.90 L459.0 405.82 L460.4 405.30 L461.8 405.90 L463.2 405.38 L464.6 405.90 L466.0 405.90 L467.4 405.78 L468.8 405.90 L470.2 405.90 L471.6 405.90 L473.0 405.90 L474.4 405.90 L475.8 405.90 L477.2 405.52 L478.6 405.71 L480.0 405.48 L481.4 405.82" stroke="#5a9ad0" stroke-width="0.5" fill="none" opacity="0.7"/>
<path d="M121.5 406.5L121.5 406.50L123.5 405.30L125.3 406.50L125.3 406.5ZM127.8 406.5L127.8 406.50L129.5 404.30L131.2 403.20L133 406.50L133 406.5ZM139.5 406.5L139.5 406.50L141.2 404.00L142.5 401.20L143.6 404.00L144.6 406.50L144.6 406.5ZM147.4 406.5L147.4 406.50L149 404.30L150.5 403.70L152 404.50L153.5 403.90L155 403.50L156.5 404.30L158.2 406.50L158.2 406.5ZM165.8 406.5L165.8 406.50L167.5 403.50L169 401.20L170.8 403.30L172 402.30L173.5 401.20L175 403.50L176.6 406.50L176.6 406.5ZM182.8 406.5L182.8 406.50L184.3 405.00L185.8 406.50L185.8 406.5Z" fill="#66b2e4" stroke="#4f92c0" stroke-width="0.5" stroke-linejoin="round"/>
<text x="109.70" y="417.90" font-size="7.4" fill="#151515" text-anchor="end" textLength="65.91" lengthAdjust="spacingAndGlyphs">BM 8w Input (0.2-3)</text>
<text x="339.40" y="413.40" font-size="6.35" fill="#a2c8e8" text-anchor="middle" textLength="206.39" lengthAdjust="spacingAndGlyphs">Bone Marrow Adult 8 weeks Input TFBS ChIP-seq Signal from ENCODE/LICR</text>
<line x1="113.8" y1="424.40" x2="482" y2="424.40" stroke="#a4c8e6" stroke-width="0.7"/>
<path d="M141.5 424.60H147.3 M162.0 424.60H168.0 M177.7 424.60H181.9 M183.4 424.60H186.7 M247.7 424.60H255.5 M256.1 424.60H260.1 M286.0 424.60H288.6 M343.2 424.60H349.7 M417.0 424.60H420.3 M437.1 424.60H439.7 M440.4 424.60H445.2 M457.8 424.60H459.8 M464.5 424.60H466.7" stroke="#7cb0da" stroke-width="0.7" fill="none" opacity="0.8"/>
<path d="M210.8 424.60H216.3 M232.5 424.60H237.4 M297.2 424.60H301.9 M302.6 424.60H305.8 M325.7 424.60H327.9 M365.9 424.60H371.8 M383.6 424.60H391.2 M404.9 424.60H407.4 M421.4 424.60H424.0 M450.3 424.60H456.8 M475.5 424.60H481.7" stroke="#6a9cc6" stroke-width="0.7" fill="none" opacity="0.8"/>
<path d="M113.8 424.60H118.3 M125.4 424.60H132.0 M148.7 424.60H154.5 M192.4 424.60H199.6 M216.9 424.60H222.5 M239.2 424.60H245.7 M277.4 424.60H284.7 M289.7 424.60H296.4 M307.8 424.60H314.0 M320.8 424.60H323.9 M332.8 424.60H339.0 M356.6 424.60H361.7 M373.3 424.60H380.1 M398.2 424.60H403.0 M424.5 424.60H432.2 M445.9 424.60H449.5 M460.4 424.60H463.4 M467.6 424.60H474.2" stroke="#8ec0e6" stroke-width="0.7" fill="none" opacity="0.8"/>
<path d="M186.0 424.10 L187.4 423.95 L188.8 424.10 L190.2 424.10 L191.6 424.10 L193.0 424.10 L194.4 423.77 L195.8 423.97 L197.2 423.79 L198.6 424.03 L200.0 423.98 L201.4 424.04 L202.8 424.10 L204.2 423.84 L205.6 423.95 L207.0 423.95 L208.4 424.10 L209.8 424.10 L211.2 424.10 L212.6 424.10 L214.0 424.01 L215.4 424.10 L216.8 423.94 L218.2 424.10 L219.6 424.01 L221.0 423.98 L222.4 424.10 L223.8 423.58 L225.2 423.93 L226.6 423.74 L228.0 424.10 L229.4 424.10 L230.8 424.10 L232.2 424.10 L233.6 423.91 L235.0 424.03 L236.4 424.10 L237.8 424.10 L239.2 424.10 L240.6 423.73 L242.0 424.10 L243.4 424.03 L244.8 423.97 L246.2 424.10 L247.6 424.09 L249.0 423.71 L250.4 424.10 L251.8 424.10 L253.2 424.10 L254.6 424.10 L256.0 423.95 L257.4 424.10 L258.8 424.10 L260.2 423.85 L261.6 423.90 L263.0 423.82 L264.4 423.67 L265.8 423.99 L267.2 424.06 L268.6 424.10 L270.0 423.92 L271.4 424.10 L272.8 424.10 L274.2 424.10 L275.6 424.10 L277.0 424.10 L278.4 423.71 L279.8 424.10 L281.2 424.10 L282.6 424.03 L284.0 423.67 L285.4 423.93 L286.8 424.10 L288.2 424.10 L289.6 423.99 L291.0 424.10 L292.4 424.10 L293.8 423.81 L295.2 423.77 L296.6 424.05 L298.0 424.03 L299.4 423.97 L300.8 423.62 L302.2 423.91 L303.6 423.94 L305.0 423.94 L306.4 424.10 L307.8 423.72 L309.2 423.81 L310.6 423.94 L312.0 424.10 L313.4 424.10 L314.8 423.85 L316.2 424.10 L317.6 424.10 L319.0 423.79 L320.4 424.10 L321.8 423.62 L323.2 423.93 L324.6 424.10 L326.0 424.00 L327.4 423.91 L328.8 424.06 L330.2 423.76 L331.6 424.10 L333.0 424.10 L334.4 423.79 L335.8 424.09 L337.2 424.10 L338.6 423.82 L340.0 423.66 L341.4 424.10 L342.8 424.10 L344.2 424.10 L345.6 424.10 L347.0 424.10 L348.4 423.68 L349.8 424.10 L351.2 423.72 L352.6 424.10 L354.0 424.10 L355.4 423.91 L356.8 423.76 L358.2 423.84 L359.6 424.00 L361.0 424.06 L362.4 424.05 L363.8 423.93 L365.2 424.10 L366.6 424.02 L368.0 423.93 L369.4 424.10 L370.8 423.87 L372.2 423.93 L373.6 423.50 L375.0 424.00 L376.4 424.10 L377.8 424.10 L379.2 424.10 L380.6 423.82 L382.0 424.10 L383.4 423.98 L384.8 423.55 L386.2 424.10 L387.6 424.10 L389.0 424.03 L390.4 423.98 L391.8 424.03 L393.2 424.10 L394.6 423.90 L396.0 424.02 L397.4 424.10 L398.8 423.37 L400.2 423.99 L401.6 424.10 L403.0 424.10 L404.4 424.10 L405.8 424.10 L407.2 424.10 L408.6 424.10 L410.0 423.80 L411.4 424.10 L412.8 424.10 L414.2 423.81 L415.6 423.84 L417.0 423.65 L418.4 424.10 L419.8 424.10 L421.2 424.10 L422.6 423.91 L424.0 423.77 L425.4 424.10 L426.8 423.77 L428.2 424.10 L429.6 423.90 L431.0 424.10 L432.4 424.05 L433.8 423.74 L435.2 424.10 L436.6 424.04 L438.0 423.86 L439.4 424.06 L440.8 424.10 L442.2 423.64 L443.6 423.79 L445.0 424.10 L446.4 423.28 L447.8 424.10 L449.2 423.83 L450.6 424.10 L452.0 424.06 L453.4 423.89 L454.8 424.03 L456.2 423.91 L457.6 424.10 L459.0 424.10 L460.4 423.92 L461.8 424.10 L463.2 424.10 L464.6 424.10 L466.0 423.72 L467.4 423.88 L468.8 423.66 L470.2 424.10 L471.6 424.10 L473.0 424.10 L474.4 423.87 L475.8 423.62 L477.2 424.10 L478.6 423.63 L480.0 423.80 L481.4 424.10" stroke="#6ea6d6" stroke-width="0.5" fill="none" opacity="0.6"/>
<path d="M119 424.6L119 424.60L121 423.90L123 424.60L123 424.6ZM125 424.6L125 424.60L127 423.80L129 424.60L129 424.6ZM139 424.6L139 424.60L141.5 423.00L144.3 424.60L144.3 424.6ZM152 424.6L152 424.60L154 424.00L156 424.60L156 424.6ZM170 424.6L170 424.60L172 423.80L174 424.60L174 424.6ZM177 424.6L177 424.60L178.5 423.50L180 424.60L180 424.6ZM184 424.6L184 424.60L185.5 423.40L187 424.60L187 424.6Z" fill="#66b2e4" stroke="#4f92c0" stroke-width="0.5" stroke-linejoin="round"/>
<text x="109.70" y="436.00" font-size="7.4" fill="#151515" text-anchor="end" textLength="79.74" lengthAdjust="spacingAndGlyphs">Smlnt H3K4m3 (0.2-40)</text>
<text x="339.40" y="431.50" font-size="6.35" fill="#e8b04a" text-anchor="middle" textLength="223.42" lengthAdjust="spacingAndGlyphs">Small Intestine 8w H3K4me3 Histone Mods by ChIP-seq Signal from ENCODE/LICR</text>
<line x1="113.8" y1="442.70" x2="482" y2="442.70" stroke="#f1d39a" stroke-width="0.7"/>
<path d="M186.0 442.70H190.6 M252.3 442.70H255.6 M312.0 442.70H316.4 M330.2 442.70H332.2 M360.2 442.70H361.8 M382.7 442.70H384.3 M396.9 442.70H400.9 M403.7 442.70H405.8 M436.0 442.70H440.6" stroke="#a47cc4" stroke-width="1.1" fill="none" opacity="0.9"/>
<path d="M197.6 442.70H199.7 M211.8 442.70H216.3 M230.7 442.70H234.4 M257.7 442.70H260.4 M273.6 442.70H277.0 M278.5 442.70H282.5 M301.7 442.70H305.9 M307.2 442.70H309.1 M324.1 442.70H327.3 M353.1 442.70H357.4 M375.7 442.70H377.2 M378.7 442.70H381.8 M412.7 442.70H415.8 M464.9 442.70H468.0" stroke="#9370b8" stroke-width="1.1" fill="none" opacity="0.9"/>
<path d="M284.8 442.70H286.5 M288.6 442.70H291.2 M297.5 442.70H300.7 M345.9 442.70H350.3 M363.4 442.70H368.2 M390.5 442.70H394.7 M408.1 442.70H411.3 M423.4 442.70H425.6 M452.8 442.70H456.8 M476.6 442.70H479.6" stroke="#7a6a88" stroke-width="1.1" fill="none" opacity="0.9"/>
<path d="M237.3 442.70H242.2 M245.1 442.70H249.7 M342.8 442.70H344.4 M370.7 442.70H374.5 M386.7 442.70H388.5 M430.5 442.70H434.0 M459.5 442.70H464.1" stroke="#8c8c98" stroke-width="1.1" fill="none" opacity="0.9"/>
<path d="M122.4 442.7L122.4 442.70L124 439.70L125.8 436.80L127 437.90L128 437.20L129.5 433.90L130.5 432.20L131.5 435.20L132.5 439.20L133.6 442.70L133.6 442.7ZM145 442.7L145 442.70L146.5 439.70L148 437.20L149.2 436.40L152.5 436.30L155.8 436.50L157.5 439.20L159 442.70L159 442.7ZM160.5 442.7L160.5 442.70L161.8 440.20L162.8 439.40L164 439.70L165 437.90L166.5 438.50L167.8 436.90L169 435.70L170.2 436.70L171.2 438.20L172.8 437.20L174.3 436.40L176.5 437.20L178.5 439.70L180.5 442.70L180.5 442.7Z" fill="#e5a318" stroke="#b58a18" stroke-width="0.55" stroke-linejoin="round"/>
<text x="109.70" y="454.10" font-size="7.4" fill="#151515" text-anchor="end" textLength="65.83" lengthAdjust="spacingAndGlyphs">Smlnt Input (0.2-40)</text>
<text x="339.40" y="449.60" font-size="6.35" fill="#e8b04a" text-anchor="middle" textLength="210.15" lengthAdjust="spacingAndGlyphs">Small Intestine 8w Input Histone Mods by ChIP-seq Signal from ENCODE/LICR</text>
<line x1="113.8" y1="460.80" x2="482" y2="460.80" stroke="#e2e0e6" stroke-width="0.6"/>
<path d="M114.0 460.80H116.4 M175.2 460.80H177.8 M292.9 460.80H295.6 M302.8 460.80H303.9 M377.2 460.80H378.0 M437.5 460.80H438.4 M444.3 460.80H447.1" stroke="#a88cc4" stroke-width="0.9" fill="none" opacity="0.8"/>
<path d="M120.2 460.80H121.6 M141.4 460.80H142.6 M166.0 460.80H169.0 M182.2 460.80H183.6 M202.7 460.80H203.8 M224.8 460.80H227.2 M230.7 460.80H232.2 M240.0 460.80H240.8 M252.4 460.80H255.0 M384.6 460.80H386.1 M387.5 460.80H388.9 M397.8 460.80H399.2 M424.4 460.80H426.9 M432.8 460.80H434.0 M439.9 460.80H441.6" stroke="#a9a0b0" stroke-width="0.9" fill="none" opacity="0.8"/>
<path d="M160.6 460.80H162.4 M192.7 460.80H193.8 M205.3 460.80H207.7 M236.3 460.80H238.8 M241.9 460.80H243.8 M307.5 460.80H309.8 M312.7 460.80H315.6 M325.6 460.80H327.0 M334.3 460.80H335.6 M353.2 460.80H354.3 M458.2 460.80H459.6 M473.5 460.80H475.7" stroke="#b89cd0" stroke-width="0.9" fill="none" opacity="0.8"/>
<text x="109.70" y="472.20" font-size="7.4" fill="#151515" text-anchor="end" textLength="71.46" lengthAdjust="spacingAndGlyphs">Smlnt 8w Pol2 (0.2-5)</text>
<text x="339.40" y="467.70" font-size="6.35" fill="#e8b04a" text-anchor="middle" textLength="208.72" lengthAdjust="spacingAndGlyphs">Small Intestine Adult 8 weeks Pol2 TFBS ChIP-seq Signal from ENCODE/LICR</text>
<line x1="113.8" y1="478.60" x2="482" y2="478.60" stroke="#e0a020" stroke-width="1.6"/>
<path d="M186.0 478.00 L187.4 478.00 L188.8 478.00 L190.2 478.00 L191.6 477.68 L193.0 478.00 L194.4 478.00 L195.8 478.00 L197.2 478.00 L198.6 478.00 L200.0 478.00 L201.4 476.89 L202.8 477.86 L204.2 478.00 L205.6 477.61 L207.0 478.00 L208.4 478.00 L209.8 477.75 L211.2 478.00 L212.6 478.00 L214.0 478.00 L215.4 478.00 L216.8 477.48 L218.2 477.43 L219.6 476.82 L221.0 478.00 L222.4 478.00 L223.8 478.00 L225.2 477.76 L226.6 477.99 L228.0 477.64 L229.4 478.00 L230.8 478.00 L232.2 477.28 L233.6 478.00 L235.0 477.48 L236.4 478.00 L237.8 477.94 L239.2 478.00 L240.6 478.00 L242.0 477.82 L243.4 477.73 L244.8 478.00 L246.2 477.94 L247.6 478.00 L249.0 477.98 L250.4 478.00 L251.8 478.00 L253.2 477.84 L254.6 478.00 L256.0 478.00 L257.4 478.00 L258.8 478.00 L260.2 478.00 L261.6 477.97 L263.0 478.00 L264.4 477.59 L265.8 477.29 L267.2 477.55 L268.6 478.00 L270.0 478.00 L271.4 477.83 L272.8 478.00 L274.2 477.38 L275.6 477.90 L277.0 477.80 L278.4 478.00 L279.8 477.93 L281.2 478.00 L282.6 478.00 L284.0 477.91 L285.4 478.00 L286.8 478.00 L288.2 477.61 L289.6 477.29 L291.0 477.98 L292.4 478.00 L293.8 477.66 L295.2 477.57 L296.6 477.76 L298.0 478.00 L299.4 478.00 L300.8 477.54 L302.2 478.00 L303.6 477.97 L305.0 477.45 L306.4 477.54 L307.8 478.00 L309.2 478.00 L310.6 478.00 L312.0 478.00 L313.4 477.97 L314.8 478.00 L316.2 477.73 L317.6 478.00 L319.0 478.00 L320.4 478.00 L321.8 477.98 L323.2 478.00 L324.6 477.57 L326.0 478.00 L327.4 477.94 L328.8 477.44 L330.2 477.99 L331.6 477.81 L333.0 477.94 L334.4 477.62 L335.8 477.69 L337.2 477.48 L338.6 478.00 L340.0 478.00 L341.4 477.88 L342.8 478.00 L344.2 478.00 L345.6 478.00 L347.0 478.00 L348.4 478.00 L349.8 478.00 L351.2 478.00 L352.6 478.00 L354.0 477.81 L355.4 477.73 L356.8 478.00 L358.2 478.00 L359.6 478.00 L361.0 478.00 L362.4 477.75 L363.8 478.00 L365.2 477.59 L366.6 478.00 L368.0 478.00 L369.4 477.65 L370.8 478.00 L372.2 478.00 L373.6 477.05 L375.0 477.72 L376.4 477.88 L377.8 478.00 L379.2 477.63 L380.6 478.00 L382.0 478.00 L383.4 478.00 L384.8 478.00 L386.2 478.00 L387.6 477.85 L389.0 477.61 L390.4 477.74 L391.8 477.86 L393.2 477.95 L394.6 477.80 L396.0 477.06 L397.4 478.00 L398.8 478.00 L400.2 477.83 L401.6 478.00 L403.0 478.00 L404.4 478.00 L405.8 477.69 L407.2 478.00 L408.6 478.00 L410.0 478.00 L411.4 477.52 L412.8 478.00 L414.2 478.00 L415.6 478.00 L417.0 478.00 L418.4 477.55 L419.8 478.00 L421.2 477.57 L422.6 477.80 L424.0 477.87 L425.4 477.92 L426.8 478.00 L428.2 477.50 L429.6 477.96 L431.0 478.00 L432.4 478.00 L433.8 477.32 L435.2 478.00 L436.6 478.00 L438.0 478.00 L439.4 477.52 L440.8 478.00 L442.2 477.39 L443.6 478.00 L445.0 477.95 L446.4 478.00 L447.8 477.93 L449.2 478.00 L450.6 478.00 L452.0 477.86 L453.4 478.00 L454.8 477.69 L456.2 478.00 L457.6 477.28 L459.0 478.00 L460.4 477.20 L461.8 477.65 L463.2 477.96 L464.6 478.00 L466.0 478.00 L467.4 477.65 L468.8 478.00 L470.2 478.00 L471.6 478.00 L473.0 477.72 L474.4 477.90 L475.8 477.82 L477.2 477.73 L478.6 478.00 L480.0 477.86 L481.4 477.27" stroke="#d89a18" stroke-width="0.7" fill="none" opacity="0.8"/>
<path d="M113.3 478.9L113.3 478.90L114.5 476.90L116 476.40L117.2 478.90L117.2 478.9ZM120.8 478.9L120.8 478.90L122.5 476.70L124 476.10L125.5 475.50L127 476.40L128.2 478.40L128.2 478.9ZM129 478.9L129 478.40L130.5 475.90L132 473.40L132.8 472.60L134 474.40L135.2 476.90L136.2 478.40L136.2 478.9ZM139.5 478.9L139.5 478.40L141 475.40L142.1 470.90L142.6 469.80L143.3 472.90L144.3 476.40L145.4 477.30L150 477.10L155 477.30L160.4 477.70L164 477.40L168 477.90L172 477.10L176 477.40L180 477.90L182 478.90L182 478.9Z" fill="#e5a318" stroke="#b58a18" stroke-width="0.55" stroke-linejoin="round"/>
<text x="109.70" y="490.30" font-size="7.4" fill="#151515" text-anchor="end" textLength="73.72" lengthAdjust="spacingAndGlyphs">Smlnt 8w Input (0.2-5)</text>
<text x="339.40" y="485.80" font-size="6.35" fill="#e8b04a" text-anchor="middle" textLength="210.04" lengthAdjust="spacingAndGlyphs">Small Intestine Adult 8 weeks Input TFBS ChIP-seq Signal from ENCODE/LICR</text>
<line x1="113.8" y1="496.70" x2="482" y2="496.70" stroke="#efc37a" stroke-width="1.0"/>
<path d="M126.9 496.50H128.6 M146.4 496.50H148.6 M149.8 496.50H154.6 M194.1 496.50H195.9 M226.5 496.50H229.8 M264.6 496.50H269.6 M305.3 496.50H307.8 M382.9 496.50H385.2 M387.7 496.50H391.5 M409.4 496.50H412.6 M413.4 496.50H415.4 M439.7 496.50H444.5 M477.7 496.50H479.6 M481.5 496.50H482.0" stroke="#e0a22a" stroke-width="0.7" fill="none" opacity="0.8"/>
<path d="M135.1 496.50H138.4 M159.6 496.50H165.1 M182.2 496.50H187.3 M212.3 496.50H214.6 M217.4 496.50H218.9 M230.9 496.50H232.5 M241.4 496.50H247.0 M255.9 496.50H258.2 M284.2 496.50H288.3 M294.4 496.50H298.4 M345.7 496.50H350.0 M397.8 496.50H401.9 M417.6 496.50H421.1 M445.7 496.50H451.7" stroke="#d89a20" stroke-width="0.7" fill="none" opacity="0.8"/>
<path d="M113.8 496.50H117.3 M143.5 496.50H145.4 M155.9 496.50H158.6 M171.9 496.50H176.9 M178.6 496.50H180.4 M260.7 496.50H263.6 M270.3 496.50H275.7 M300.3 496.50H302.6 M334.3 496.50H336.8 M436.0 496.50H437.5 M470.9 496.50H476.0" stroke="#e8b040" stroke-width="0.7" fill="none" opacity="0.8"/>
<rect x="0.5" y="0.5" width="519" height="503" fill="none" stroke="#5e5e5e" stroke-width="1"/>
</svg></body></html>
